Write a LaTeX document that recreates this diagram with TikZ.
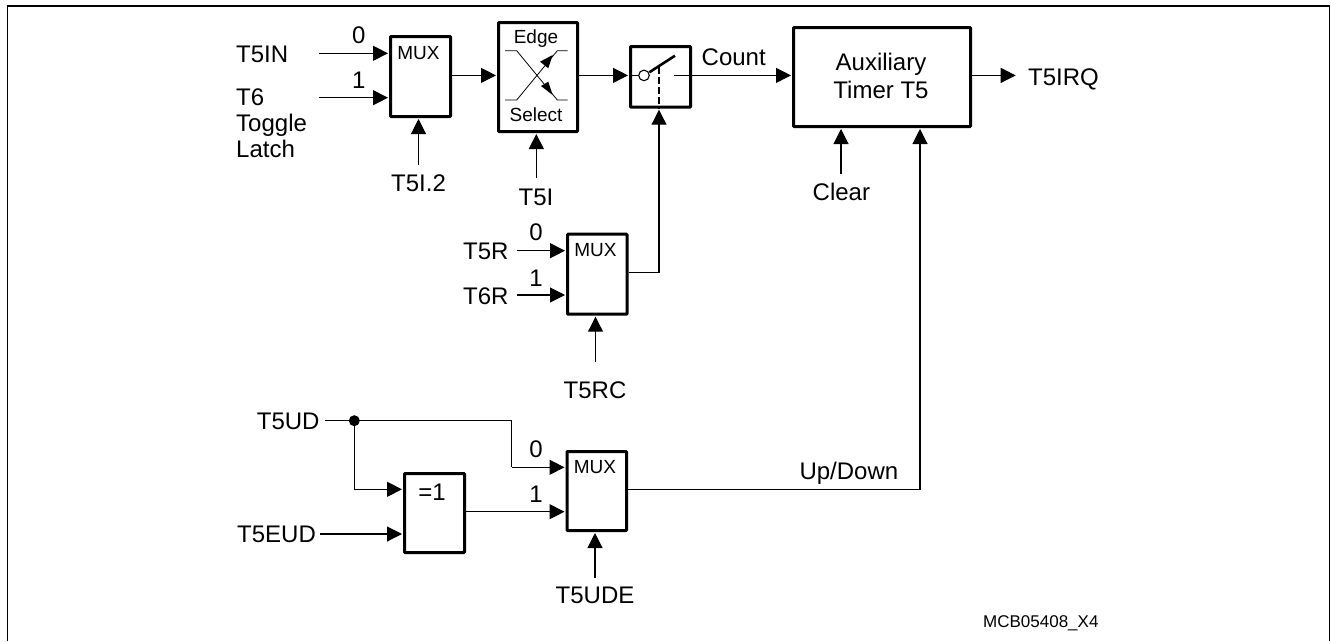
\documentclass[tikz,border=0pt]{standalone}
\usepackage{fontspec}
\setmainfont{Liberation Sans}
\usetikzlibrary{arrows.meta}
\tikzset{
  x=1pt,y=-1pt,
  box/.style={draw,line width=3pt,rounded corners=0.8pt,minimum size=0pt,inner sep=0pt,anchor=north west},
  conn/.style={line width=1.1pt,-{Triangle[length=15pt,width=15pt]},shorten >=1pt},
  wire/.style={line width=1.1pt},
  lab/.style={font=\fontsize{24}{28}\selectfont,inner sep=0pt,anchor=base west},
  labc/.style={font=\fontsize{24}{28}\selectfont,inner sep=0pt,anchor=base},
  small/.style={font=\fontsize{19}{22}\selectfont,inner sep=0pt,anchor=base},
  tiny/.style={font=\fontsize{17}{20}\selectfont,inner sep=0pt,anchor=base west},
  thin sym/.style={line width=0.8pt},
}
\newcommand{\bx}[5]{\node[box,minimum width=#4pt,minimum height=#5pt] (#1) at (#2,#3) {};}
\begin{document}
\begin{tikzpicture}
\useasboundingbox (0,0) rectangle (1331,641);
\draw[line width=1.3pt] (7.5,641) -- (7.5,6) -- (1329.5,6) -- (1329.5,641);
% boxes
\bx{mA}{389}{35}{60}{80}
\bx{edge}{497}{21}{79}{109}
\bx{sw}{629}{45}{60}{60.7}
\bx{aux}{792}{26}{177}{99}
\bx{mB}{566}{232.7}{59.5}{80}
\bx{mC}{565.5}{450}{59.5}{79}
\bx{xo}{403}{472}{60}{79}
% texts in boxes
\node[small] (tmA) at (418.5,59) {MUX};
\node[small] (tmB) at (595.5,256) {MUX};
\node[small] (tmC) at (595,473) {MUX};
\node[small] (ted) at (536,43) {Edge};
\node[small] (tse) at (536,121) {Select};
\node[labc] (tau) at (881,70.7) {Auxiliary};
\node[labc] (tti) at (881,98.3) {Timer T5};
\node[labc] (txo) at (432,500) {=1};
% labels
\node[lab] (T5IN) at (236,62.7) {T5IN};
\node[lab] (T6) at (236,105) {T6};
\node[lab] (Tog) at (236,131.7) {Toggle};
\node[lab] (Lat) at (236,157.7) {Latch};
\node[labc] (z1) at (358.7,43.3) {0};
\node[labc] (o1) at (358.7,88.3) {1};
\node[labc] (T5I2) at (418.5,191.5) {T5I.2};
\node[labc] (T5I) at (536,205.7) {T5I};
\node[lab] (Cnt) at (701.5,65) {Count};
\node[lab] (Clr) at (812.5,200.7) {Clear};
\node[lab] (IRQ) at (1028,85.7) {T5IRQ};
\node[lab] (T5R) at (463,259) {T5R};
\node[lab] (T6R) at (463,304) {T6R};
\node[labc] (z2) at (536,240.7) {0};
\node[labc] (o2) at (536,286) {1};
\node[labc] (T5RC) at (595,398) {T5RC};
\node[lab] (T5UD) at (256.7,429.3) {T5UD};
\node[lab] (T5EUD) at (237,542.7) {T5EUD};
\node[labc] (z3) at (536,457.7) {0};
\node[labc] (o3) at (536,502.7) {1};
\node[labc] (T5UDE) at (595,603.5) {T5UDE};
\node[lab] (UpD) at (799.3,479.3) {Up/Down};
\node[tiny] (code) at (983,627.7) {MCB05408\_X4};
% coordinates
\coordinate (ym) at (0,75.4);
\coordinate (a1) at (319.3,53.3);
\coordinate (a2) at (319.3,97.7);
\coordinate (a3) at (418.5,165);
\coordinate (a4) at (536.3,178);
\coordinate (a5) at (674,75.4);
\coordinate (a6) at (841,174);
\coordinate (a8) at (1016.7,75.4);
\coordinate (b1) at (516.7,250.7);
\coordinate (b2) at (516.7,295);
\coordinate (b3) at (595.5,361.7);
\coordinate (byo) at (0,272.7);
\coordinate (c1) at (325,420.7);
\coordinate (c2) at (320,534);
\coordinate (c3) at (595,578);
\coordinate (dot) at (354.3,420.7);
\coordinate (bend1) at (511.7,420.7);
\coordinate (bend2) at (511.7,467.3);
\coordinate (xin1) at (0,489.3);
\coordinate (xout) at (0,511.7);
\coordinate (upy) at (0,489.3);
\coordinate (upx) at (920,0);
\coordinate (ltip) at (649.3,72.3);
\coordinate (lend) at (675,55.7);
\coordinate (dtop) at (659,67);
\coordinate (swc) at (644,75.4);
% connectors
\draw[conn] (a1) -- (a1-|mA.west);
\draw[conn] (a2) -- (a2-|mA.west);
\draw[conn] (a3) -- (a3|-mA.south);
\draw[conn] (mA.east|-ym) -- (edge.west|-ym);
\draw[conn] (a4) -- (a4|-edge.south);
\draw[conn] (edge.east|-ym) -- (sw.west|-ym);
\draw[conn] (a5) -- (aux.west|-ym);
\draw[conn] (a6) -- (a6|-aux.south);
\draw[conn] (aux.east|-ym) -- (a8);
\draw[conn] (b1) -- (b1-|mB.west);
\draw[conn] (b2) -- (b2-|mB.west);
\draw[conn] (b3) -- (b3|-mB.south);
\draw[conn] (mB.east|-byo) -| (dtop|-sw.south);
\draw[wire] (c1) -- (dot);
\fill (dot) circle (5.5pt);
\draw[wire] (dot) -- (bend1) -- (bend2);
\draw[conn] (bend2) -- (bend2-|mC.west);
\draw[conn] (dot) |- (xo.west|-xin1);
\draw[conn] (c2) -- (c2-|xo.west);
\draw[conn] (xo.east|-xout) -- (mC.west|-xout);
\draw[conn] (c3) -- (c3|-mC.south);
\draw[conn] (mC.east|-upy) -| (upx|-aux.south);
% switch
\draw[wire] (sw.west|-ym) -- (swc);
\draw[wire,fill=white] (swc) circle (5.3pt);
\draw[line width=2.6pt] (ltip) -- (lend);
\draw[line width=1.7pt,dash pattern=on 6.5pt off 3.5pt] (dtop) -- (dtop|-sw.south);
% edge symbol
\draw[thin sym] (505,50.7) -- (516.7,50.7) -- (557.3,100) -- (567.7,100);
\draw[thin sym] (505,100) -- (516.7,100) -- (557.3,50.7) -- (567.7,50.7);
\fill (552.7,55) -- (540,61.7) -- (548.3,68.3) -- cycle;
\fill (552.7,95) -- (541,86) -- (548.3,81.7) -- cycle;
\end{tikzpicture}
\end{document}
